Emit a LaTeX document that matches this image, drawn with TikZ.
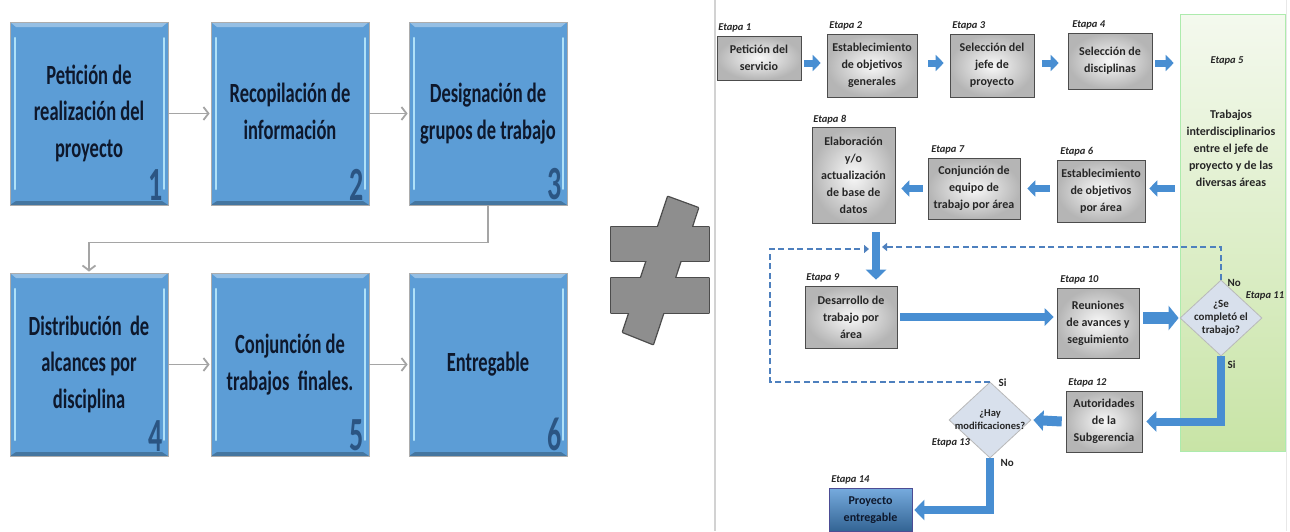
\documentclass[tikz,border=0pt]{standalone}
\usepackage{fontspec}
\usepackage{graphicx}
\setmainfont{Carlito}
\usetikzlibrary{arrows.meta,shapes.geometric,shadows,calc}

\definecolor{boxblue}{RGB}{92,157,214}
\definecolor{bevel}{RGB}{175,225,248}
\definecolor{numblue}{RGB}{38,78,122}
\definecolor{txtnavy}{RGB}{14,24,44}
\definecolor{linkgray}{RGB}{165,165,165}
\definecolor{arrblue}{RGB}{72,142,210}
\definecolor{dashblue}{RGB}{78,128,190}
\definecolor{diafill}{RGB}{216,224,236}
\definecolor{greentop}{RGB}{244,249,238}
\definecolor{greenbot}{RGB}{200,228,166}
\definecolor{neqgray}{RGB}{142,142,142}

% vertically stretched multi-line text for the blue panels
\newcommand\talltext[2][1.5]{\scalebox{1}[#1]{\begin{tabular}{@{}c@{}}#2\end{tabular}}}

\begin{document}
\begin{tikzpicture}[x=1pt,y=-1pt,
  bluebox/.style={draw=gray!65, line width=0.8pt, fill=boxblue, minimum width=158pt,
    minimum height=183pt, inner sep=0pt, text=txtnavy,
    font=\bfseries\fontsize{18.5}{24.5}\selectfont,
    path picture={
      \fill[boxblue!65!white]
        (path picture bounding box.north west) -- (path picture bounding box.north east)
        -- ([xshift=-6pt,yshift=-5pt]path picture bounding box.north east)
        -- ([xshift=6pt,yshift=-5pt]path picture bounding box.north west) -- cycle;
      \fill[boxblue!75!black]
        (path picture bounding box.south west) -- (path picture bounding box.south east)
        -- ([xshift=-6pt,yshift=4pt]path picture bounding box.south east)
        -- ([xshift=6pt,yshift=4pt]path picture bounding box.south west) -- cycle;
      \draw[bevel, line width=2.4pt, line cap=round]
        ([xshift=5pt,yshift=-16pt]path picture bounding box.north west)
        -- ([xshift=5pt,yshift=16pt]path picture bounding box.south west);
      \draw[bevel, line width=1.6pt, line cap=round]
        ([xshift=-4pt,yshift=-16pt]path picture bounding box.north east)
        -- ([xshift=-4pt,yshift=16pt]path picture bounding box.south east);
    }},
  numlbl/.style={anchor=south east, inner sep=0pt, text=numblue, text opacity=0.9,
    font=\bfseries\fontsize{28}{28}\selectfont},
  glink/.style={draw=linkgray, line width=1.8pt, line join=miter,
    -{Straight Barb[length=5pt,width=13pt]}, shorten >=1pt},
  graybox/.style={draw=gray!60!black, line width=0.6pt, inner color=gray!5,
    outer color=gray!58, text=black!85, align=center, inner sep=1pt,
    font=\bfseries\fontsize{12}{17}\selectfont,
    drop shadow={shadow xshift=1.2pt, shadow yshift=-1.2pt, opacity=0.3}},
  stagelbl/.style={anchor=south west, inner sep=0.5pt, text=black!85,
    font=\bfseries\itshape\fontsize{10.5}{12}\selectfont},
  ansl/.style={inner sep=0.5pt, text=black!85, font=\bfseries\fontsize{11}{12}\selectfont},
  decis/.style={diamond, draw=gray!55, line width=0.8pt, fill=diafill, inner sep=0pt,
    minimum width=82pt, minimum height=76pt},
  dtext/.style={align=center, inner sep=0pt, text=black!85},
  sarrow/.style={draw=arrblue, line width=7pt, -{Triangle[length=8pt,width=16pt]}},
  barrow/.style={draw=arrblue, line width=8pt, line join=miter,
    -{Triangle[length=10pt,width=20pt]}},
  dline/.style={draw=dashblue, line width=1.8pt, dash pattern=on 6pt off 3.5pt,
    -{Triangle[length=5pt,width=8pt]}}
]
\useasboundingbox (0,0) rectangle (1290,531);
\fill[white] (0,0) rectangle (1290,531);

% ---------------- left: six-step sequence ----------------
\node[bluebox] (b1) at (89,113.5) {\talltext{Petición de\\realización del\\proyecto}};
\node[bluebox] (b2) at (290,113.5) {\talltext{Recopilación de\\información}};
\node[bluebox] (b3) at (488,113.5) {\talltext{Designación de\\grupos de trabajo}};
\node[bluebox] (b4) at (89,364.5) {\talltext{Distribución\ \ de\\alcances por\\disciplina}};
\node[bluebox] (b5) at (290,364.5) {\talltext{Conjunción de\\trabajos\ \ finales.}};
\node[bluebox] (b6) at (488,364.5) {\talltext{Entregable}};

\foreach \i in {1,...,6}
  \node[numlbl] (n\i) at ($(b\i.south east)+(-6,-5)$) {\scalebox{1}[1.7]{\i}};

\draw[glink] (b1) -- (b2);
\draw[glink] (b2) -- (b3);
\draw[glink] (b3.south) -- ++(0,37) -| (b4.north);
\draw[glink] (b4) -- (b5);
\draw[glink] (b5) -- (b6);

% ---------------- not-equal sign ----------------
\draw[black!70, line width=2.6pt, line join=round] (611,227) rectangle (709,261);
\draw[black!70, line width=2.6pt, line join=round] (611,278) rectangle (709,313);
\draw[black!70, line width=2.6pt, line join=round] (668,197) -- (698,208) -- (653,344) -- (623,332) -- cycle;
\fill[neqgray] (611,227) rectangle (709,261);
\fill[neqgray] (611,278) rectangle (709,313);
\fill[neqgray] (668,197) -- (698,208) -- (653,344) -- (623,332) -- cycle;

% ---------------- right: staged process ----------------
\draw[gray!35, line width=1.2pt] (715,0) -- (715,531);
\draw[gray!18, line width=1pt] (1286,0) -- (1286,531);

\node[draw=gray!40!green!40, line width=0.6pt, top color=greentop, bottom color=greenbot,
  minimum width=105pt, minimum height=437pt, inner sep=0pt] (e5) at (1232.5,232.5) {};
\node[stagelbl, anchor=center] (s5) at (1227,61) {Etapa 5};
\node[dtext, font=\bfseries\fontsize{12}{17}\selectfont] (e5t) at (1231,148)
  {Trabajos\\interdisciplinarios\\entre el jefe de\\proyecto y de las\\diversas áreas};

\node[graybox, minimum width=84pt, minimum height=44pt] (e1) at (759,58) {Petición del\\servicio};
\node[graybox, minimum width=90pt, minimum height=63pt] (e2) at (872,65.5) {Establecimiento\\de objetivos\\generales};
\node[graybox, minimum width=84pt, minimum height=63pt] (e3) at (992,65.5) {Selección del\\jefe de\\proyecto};
\node[graybox, minimum width=84pt, minimum height=56pt] (e4) at (1110,61) {Selección de\\disciplinas};
\node[graybox, minimum width=88pt, minimum height=62pt] (e6) at (1101,191) {Establecimiento\\de objetivos\\por área};
\node[graybox, minimum width=92pt, minimum height=61pt] (e7) at (974,188.5) {Conjunción de\\equipo de\\trabajo por área};
\node[graybox, minimum width=83pt, minimum height=96pt] (e8) at (853.5,175) {Elaboración\\y/o\\actualización\\de base de\\datos};
\node[graybox, minimum width=92pt, minimum height=62pt] (e9) at (851,317) {Desarrollo de\\trabajo por\\área};
\node[graybox, minimum width=82pt, minimum height=70pt] (e10) at (1098,323) {Reuniones\\de avances y\\seguimiento};
\node[graybox, minimum width=76pt, minimum height=61pt] (e12) at (1104,421.5) {Autoridades\\de la\\Subgerencia};
\node[draw=blue!40!black!70, line width=0.6pt, top color=arrblue!75!white, bottom color=arrblue!70!black,
  text=txtnavy, align=center, font=\bfseries\fontsize{12}{17}\selectfont,
  minimum width=83pt, minimum height=43pt, inner sep=1pt] (e14) at (870.5,510) {Proyecto\\entregable};

\node[decis] (d11) at (1221,318) {};
\node[dtext, font=\bfseries\fontsize{11}{13}\selectfont] (d11t) at (1221,318) {¿Se\\completó el\\trabajo?};
\node[decis] (d13) at (990,420) {};
\node[dtext, font=\bfseries\fontsize{10.5}{13}\selectfont] (d13t) at (990,420) {¿Hay\\modificaciones?};

% stage labels
\node[stagelbl] (s1) at ($(e1.north west)+(1,-3)$) {Etapa 1};
\node[stagelbl] (s2) at ($(e2.north west)+(2,-3)$) {Etapa 2};
\node[stagelbl] (s3) at ($(e3.north west)+(2,-3)$) {Etapa 3};
\node[stagelbl] (s4) at ($(e4.north west)+(4,-3)$) {Etapa 4};
\node[stagelbl] (s6) at ($(e6.north west)+(3,-3)$) {Etapa 6};
\node[stagelbl] (s7) at ($(e7.north west)+(3,-3)$) {Etapa 7};
\node[stagelbl] (s8) at ($(e8.north west)+(1,-2)$) {Etapa 8};
\node[stagelbl] (s9) at ($(e9.north west)+(1,-3)$) {Etapa 9};
\node[stagelbl] (s10) at ($(e10.north west)+(3,-3)$) {Etapa 10};
\node[stagelbl] (s12) at ($(e12.north west)+(2,-3)$) {Etapa 12};
\node[stagelbl] (s14) at ($(e14.north west)+(2,-3)$) {Etapa 14};
\node[stagelbl, anchor=center] (s11) at (1265,296) {Etapa 11};
\node[stagelbl, anchor=center] (s13) at (951,443) {Etapa 13};

% answers at the decisions
\node[ansl, anchor=west] (no11) at ($(d11.north)+(6,3)$) {No};
\node[ansl, anchor=west] (si11) at ($(d11.south)+(6,8)$) {Si};
\node[ansl, anchor=west] (si13) at ($(d13.north)+(8,1)$) {Si};
\node[ansl, anchor=west] (no13) at ($(d13.south)+(10,5)$) {No};

% flow arrows
\coordinate (row1) at (0,63);
\coordinate (row2) at (0,188.5);
\coordinate (col) at (876,0);
\draw[sarrow] ($(e1.east|-row1)+(3,0)$) -- ($(e2.west|-row1)+(-6,0)$);
\draw[sarrow] ($(e2.east|-row1)+(11,0)$) -- ($(e3.west|-row1)+(-6,0)$);
\draw[sarrow] ($(e3.east|-row1)+(8,0)$) -- ($(e4.west|-row1)+(-9,0)$);
\draw[sarrow] ($(e4.east|-row1)+(3,0)$) -- ($(e5.west|-row1)+(-6,0)$);
\draw[sarrow] ($(e5.west|-row2)+(-5,0)$) -- ($(e6.east|-row2)+(4,0)$);
\draw[sarrow] ($(e6.west|-row2)+(-7,0)$) -- ($(e7.east|-row2)+(7,0)$);
\draw[sarrow] ($(e7.west|-row2)+(-5,0)$) -- ($(e8.east|-row2)+(6,0)$);
\draw[barrow] ($(e8.south-|col)+(0,9)$) -- ($(e9.north-|col)+(0,-6)$);
\draw[draw=arrblue, line width=8pt, -{Triangle[length=9pt,width=17pt]}]
  ($(e9.east)+(3,0)$) -- ($(e10.west|-e9.east)+(-3,0)$);
\draw[draw=arrblue, line width=12pt, -{Triangle[length=10pt,width=24pt]}]
  ($(e10.east|-d11.west)+(4,0)$) -- ($(d11.west)+(-1,0)$);
\draw[barrow] (d11.south) |- ($(e12.east)+(4,0)$);
\draw[draw=arrblue, line width=10pt, -{Triangle[length=10pt,width=20pt]}]
  ($(e12.west)+(-4,0)$) -- ($(d13.east)+(2,0)$);
\draw[barrow] (d13.south) |- ($(e14.east)+(2,0)$);

% dashed return loops
\coordinate (dR) at (882,247);
\coordinate (dL) at (869,249);
\coordinate (dcorner) at (770,249);
\draw[dline] (d11.north) |- (dR);
\draw[dline] (d13.north) -- (d13.north-|dcorner) |- (dL);
\end{tikzpicture}
\end{document}
